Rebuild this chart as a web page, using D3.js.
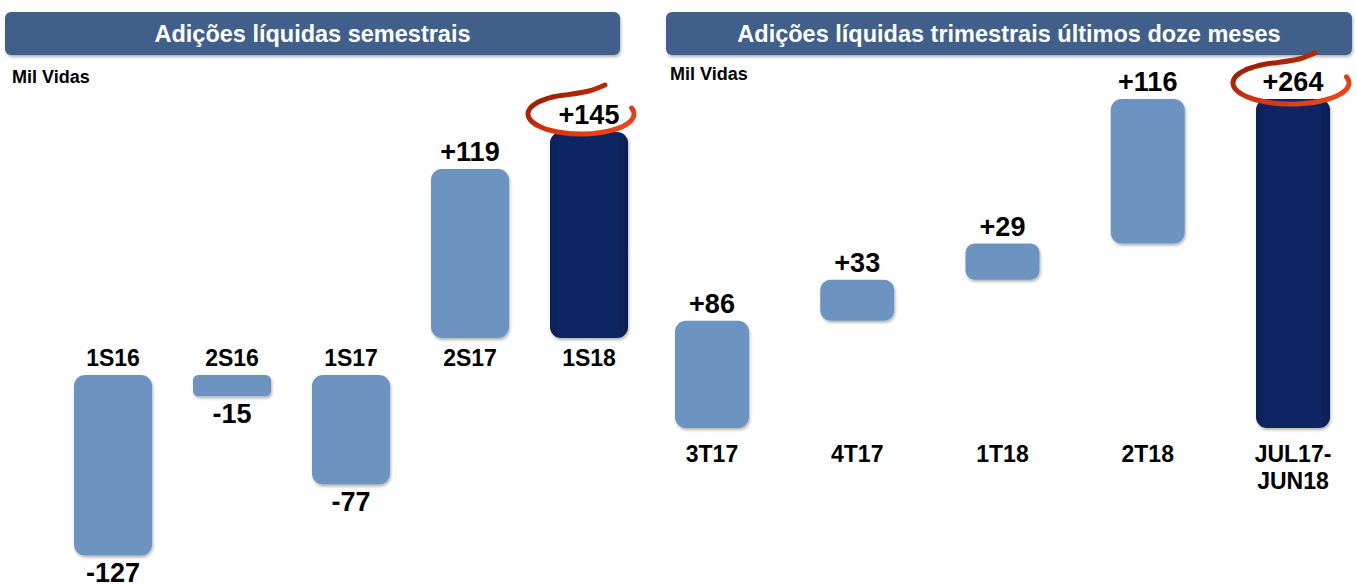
<!DOCTYPE html>
<html>
<head>
<meta charset="utf-8">
<script src="https://cdn.jsdelivr.net/npm/d3@7"></script>
<style>
  body { margin: 0; background: #fff; }
  svg { display: block; font-family: "Liberation Sans", Arial, sans-serif; font-weight: bold; }
</style>
</head>
<body>
<svg id="chart" width="1357" height="588"></svg>
<script>
// dados - semestral
const semCats = ["1S16", "2S16", "1S17", "2S17", "1S18"];
const semValues = [-127, -15, -77, 119, 145];
// dados - trimestral (cascata)
const triCats = ["3T17", "4T17", "1T18", "2T18", "JUL17-JUN18"];
const triValues = [86, 33, 29, 116];
const triTotal = 264;

const svg = d3.select("#chart");
const defs = svg.append("defs");

// sombra leve
const sh = defs.append("filter").attr("id", "shadow").attr("x", "-20%").attr("y", "-20%").attr("width", "140%").attr("height", "140%");
sh.append("feDropShadow").attr("dx", 1).attr("dy", 2).attr("stdDeviation", 1.5).attr("flood-color", "#000").attr("flood-opacity", 0.3);

// gradiente da barra escura
const dg = defs.append("linearGradient").attr("id", "darkBar").attr("x1", 0).attr("x2", 1).attr("y1", 0).attr("y2", 0);
dg.append("stop").attr("offset", "0%").attr("stop-color", "#0a1f55");
dg.append("stop").attr("offset", "15%").attr("stop-color", "#0c2763");
dg.append("stop").attr("offset", "85%").attr("stop-color", "#0c2763");
dg.append("stop").attr("offset", "100%").attr("stop-color", "#0a1d50");

// gradiente do círculo vermelho
const rg = defs.append("linearGradient").attr("id", "redRing").attr("x1", 0).attr("x2", 1).attr("y1", 0).attr("y2", 1);
rg.append("stop").attr("offset", "0%").attr("stop-color", "#7e1200");
rg.append("stop").attr("offset", "50%").attr("stop-color", "#c8320e");
rg.append("stop").attr("offset", "100%").attr("stop-color", "#f24c1f");

const light = "#6d93c0";

// caixas de título
function titleBox(x, w, txt) {
  svg.append("rect").attr("x", x).attr("y", 12).attr("width", w).attr("height", 43)
    .attr("rx", 6).attr("fill", "#41618b").attr("filter", "url(#shadow)");
  svg.append("text").attr("x", x + w / 2).attr("y", 42).attr("text-anchor", "middle")
    .attr("fill", "#fff").attr("font-size", 23.5).text(txt);
}
titleBox(5, 615, "Adições líquidas semestrais");
titleBox(666, 686, "Adições líquidas trimestrais últimos doze meses");

svg.append("text").attr("x", 12).attr("y", 83).attr("font-size", 18).text("Mil Vidas");
svg.append("text").attr("x", 670).attr("y", 80).attr("font-size", 18).text("Mil Vidas");

// ---------- gráfico semestral ----------
const xS = d3.scalePoint().domain(semCats).range([113, 589]);
const hS = d3.scaleLinear().domain([0, 145]).range([0, 206]);
const posBase = 338, negBase = 375, bwS = 78;

const gS = svg.append("g");
let semHiY = 0;
semCats.forEach((c, i) => {
  const v = semValues[i];
  const h = hS(Math.abs(v));
  const y = v >= 0 ? posBase - h : negBase;
  const last = i === semCats.length - 1;
  gS.append("rect")
    .attr("x", xS(c) - bwS / 2).attr("y", y).attr("width", bwS).attr("height", h)
    .attr("rx", Math.min(11, h / 4))
    .attr("fill", last ? "url(#darkBar)" : light)
    .attr("filter", "url(#shadow)");
  // valor
  const ly = v >= 0 ? y - 8 : y + h + 27;
  if (last) semHiY = ly;
  gS.append("text").attr("x", xS(c)).attr("text-anchor", "middle").attr("font-size", 27)
    .attr("y", ly)
    .text(v >= 0 ? "+" + v : String(v));
  // categoria
  gS.append("text").attr("x", xS(c)).attr("text-anchor", "middle").attr("font-size", 23)
    .attr("y", 366).text(c);
});

// ---------- gráfico trimestral ----------
const xT = d3.scalePoint().domain(triCats).range([712, 1293]);
const yT = d3.scaleLinear().domain([0, triTotal]).range([428, 99]);
const bwT = 74;

let acc = 0;
const steps = triValues.map(v => { const s = { start: acc, end: acc + v, v }; acc += v; return s; });
steps.push({ start: 0, end: triTotal, v: triTotal, total: true });

const gT = svg.append("g");
let triHiY = 0;
steps.forEach((s, i) => {
  const c = triCats[i];
  const y = yT(s.end), h = yT(s.start) - yT(s.end);
  gT.append("rect")
    .attr("x", xT(c) - bwT / 2).attr("y", y).attr("width", bwT).attr("height", h)
    .attr("rx", Math.min(11, h / 4))
    .attr("fill", s.total ? "url(#darkBar)" : light)
    .attr("filter", "url(#shadow)");
  if (s.total) triHiY = y - 8;
  gT.append("text").attr("x", xT(c)).attr("y", y - 8).attr("text-anchor", "middle")
    .attr("font-size", 27).text("+" + s.v);
  const lbl = c.includes("-") ? [c.split("-")[0] + "-", c.split("-")[1]] : [c];
  lbl.forEach((l, j) => {
    gT.append("text").attr("x", xT(c)).attr("y", 462 + j * 27).attr("text-anchor", "middle")
      .attr("font-size", 23).text(l);
  });
});

// círculo vermelho desenhado à mão em volta do destaque
function ring(cx, cy, rx, ry) {
  const a0 = -0.3, a1 = 1.5 * Math.PI - 0.25;
  const pts = d3.range(0, 1.0001, 0.02).map(t => {
    const a = a0 + t * (a1 - a0);
    return [cx + rx * Math.cos(a), cy + ry * Math.sin(a)];
  });
  // rabo subindo até a caixa do título
  pts.push([cx + 8, cy - ry - 3]);
  pts.push([cx + 24, cy - ry - 9]);
  svg.append("path").attr("d", d3.line().curve(d3.curveCatmullRom)(pts))
    .attr("fill", "none").attr("stroke", "url(#redRing)").attr("stroke-width", 5)
    .attr("stroke-linecap", "round");
}
ring(xS("1S18") - 8, semHiY - 10, 53, 20);
ring(xT("JUL17-JUN18") - 2, triHiY - 8, 58, 21);
</script>
</body>
</html>
